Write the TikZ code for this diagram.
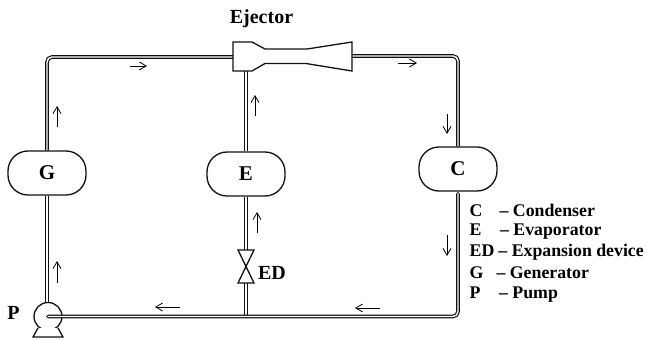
\documentclass[tikz,border=0pt]{standalone}
\usepackage{fontspec}
\setmainfont{Liberation Serif}
\usetikzlibrary{arrows.meta,backgrounds}
\definecolor{cLine}{HTML}{111111}
\tikzset{
  unit/.style ={draw=cLine,fill=white,line width=1.3pt,rounded corners=20pt,
                minimum width=78pt,minimum height=44pt,inner sep=0pt,font=\fontsize{21}{22}\selectfont\bfseries},
  part/.style ={draw=cLine,fill=white,line width=1.3pt},
  pipe/.style ={draw=cLine,line width=1.15pt,double=white,double distance=1.4pt,rounded corners=5pt},
  flow/.style ={-{Straight Barb[length=2.4mm,width=2.8mm]},draw=black,line width=.8pt},
  lbl/.style  ={font=\fontsize{20}{22}\selectfont\bfseries,inner sep=0pt},
  lgd/.style  ={font=\fontsize{17.8}{20}\selectfont\bfseries,inner sep=0pt,anchor=west},
}
\begin{document}
\begin{tikzpicture}[x=1pt, y=-1pt]
\useasboundingbox (0,0) rectangle (646,340);

\node[unit] (G) at (47,173) {G};
\node[unit] (E) at (246,174) {E};
\node[unit] (C) at (458,169) {C};
\node[part,circle,minimum size=28pt,inner sep=0pt] (pump) at (48,316.5) {};
\coordinate (ejIn)  at (233,57);
\coordinate (ejOut) at (352,56);
\coordinate (ejSuc) at (246,71);
\coordinate (edTop) at (246,250);
\coordinate (edBot) at (246,283);
\coordinate (tee)   at (246,316.5);

% ejector body and expansion valve
\draw[part] (233,42) -- (252,42) -- (265,49) -- (307,49) -- (352,42)
  -- (352,71) -- (306,63.5) -- (265,63.5) -- (252,71) -- (233,71) -- cycle;
\draw[part,fill=none] (edTop) ++(-8,0) -- ++(16,0) -- ++(-16,33) -- ++(16,0) -- cycle;
% pump base
\draw[part] (38,328) -- (33,337) -- (63,337) -- (58,328);

% pipes sit behind the units
\begin{pgfonlayer}{background}
\draw[pipe] (G.north) |- (ejIn);
\draw[pipe] (ejOut) -| (C.north);
\draw[pipe] (E.north) -- (ejSuc);
\draw[pipe] (G.south) -- (G.south |- pump.north);
\draw[pipe] (E.south) -- (edTop);
\draw[pipe] (edBot) -- (tee);
\end{pgfonlayer}
% the return line runs into the pump, so it goes over the circle
\draw[pipe,line cap=round,shorten <=2pt] (C.south) |- (pump.center);

\foreach \xa/\ya/\xb/\yb in {57/127/57/106, 57/283/57/261, 130/66/147/66, 398/63/417/63,
    255/116/255/95, 257/233/257/212, 447/114/447/134, 447/235/447/256,
    180/307/155/307, 380/308/355/308}
  \draw[flow] (\xa,\ya) -- (\xb,\yb);

\node[lbl] (ejLbl) at (261.5,18.5) {Ejector};
\node[lbl] (edLbl) at (272,272.5) {ED};
\node[lbl] (pLbl)  at (13.5,312.5) {P};

\node[lgd] (lgdC) at (469.5,210) {C\hspace{17pt}-- Condenser};
\node[lgd] (lgdE) at (469.5,231.5) {E\hspace{18.5pt}-- Evaporator};
\node[lgd] (lgdD) at (469.5,252) {ED\hspace{4pt}-- Expansion device};
\node[lgd] (lgdG) at (469.5,273) {G\hspace{13pt}-- Generator};
\node[lgd] (lgdP) at (469.5,295) {P\hspace{18.5pt}-- Pump};
\end{tikzpicture}
\end{document}
